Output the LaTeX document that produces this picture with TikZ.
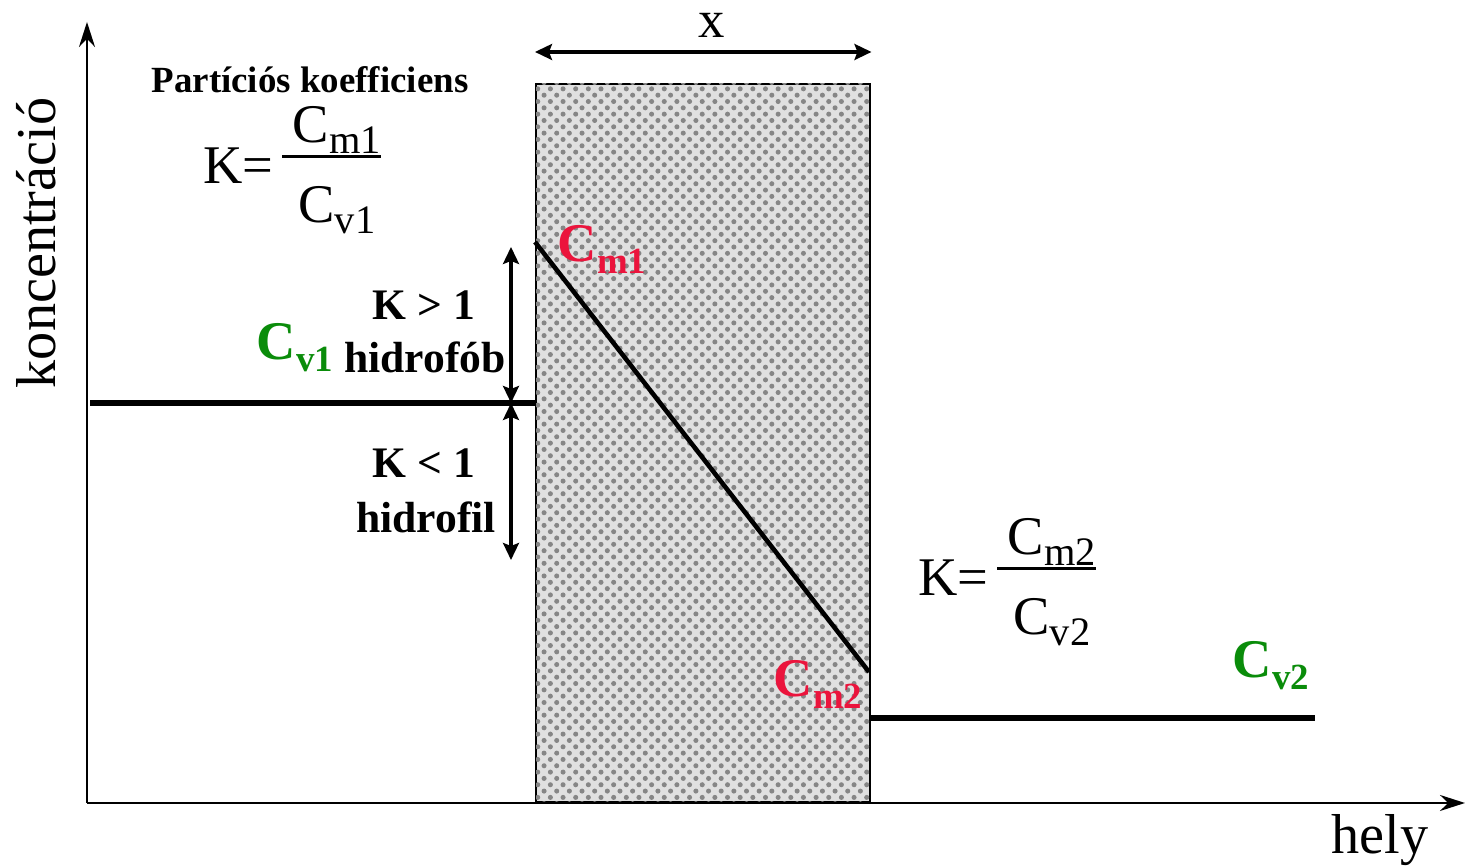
\documentclass[tikz,border=0pt]{standalone}
\usepackage{amsmath}
\usepackage{fontspec}
\setmainfont{Liberation Serif}
\usepackage{xcolor}
\usepackage{tikz}
\usetikzlibrary{arrows.meta, patterns, positioning}

\definecolor{cmred}{RGB}{235,20,60}
\definecolor{cvgreen}{RGB}{10,140,10}

% coarse dots for the membrane
\pgfdeclarepatternformonly{memdots}{\pgfqpoint{-0.8pt}{-0.8pt}}{\pgfqpoint{2.6pt}{2.6pt}}{\pgfqpoint{3.6pt}{3.6pt}}{%
  \pgfpathcircle{\pgfqpoint{0pt}{0pt}}{0.72pt}%
  \pgfpathcircle{\pgfqpoint{1.8pt}{1.8pt}}{0.72pt}%
  \pgfusepath{fill}}

\newcommand{\lowsub}[2]{{\fontsize{#1}{#1}\selectfont\raisebox{-3.2pt}{#2}}}
\newcommand{\conc}[1]{C\lowsub{10.5}{#1}}
\newcommand{\kratio}[2]{K=\,{\renewcommand{\arraystretch}{0.7}\setlength{\arrayrulewidth}{0.6pt}%
  \begin{tabular}[c]{@{\hspace{3pt}}c@{}}C\lowsub{11.5}{#1}\\\hline\rule{0pt}{2.6ex}C\lowsub{11.5}{#2}\end{tabular}}}

\begin{document}
\begin{tikzpicture}[
    axis/.style={line width=0.6pt, -{Stealth[length=2.5mm,width=1.6mm]}},
    level/.style={line width=1.5pt},
    darr/.style={line width=0.9pt, {Stealth[length=1.7mm,width=1.6mm,inset=0.3mm]}-{Stealth[length=1.7mm,width=1.6mm,inset=0.3mm]}},
    membrane/.style={draw=black, line width=0.7pt, fill=gray!24,
      postaction={pattern=memdots, pattern color=gray!95}},
    lbl/.style={inner sep=0pt, font=\fontsize{16}{18}\selectfont},
    blbl/.style={inner sep=0pt, font=\fontsize{12.4}{15}\selectfont\bfseries},
    clbl/.style={inner sep=0pt, anchor=base west, font=\fontsize{15.5}{18}\selectfont\bfseries},
    frac/.style={inner sep=0pt, font=\fontsize{15.5}{18}\selectfont}
  ]
  \useasboundingbox (0,0) rectangle (14.66,8.67);

  % axes
  \coordinate (orig) at (0.87,0.64);
  \coordinate (ytop) at (0.87,8.45);
  \coordinate (xend) at (14.65,0.64);
  \draw[axis] (orig) -- (ytop);
  \draw[axis] (orig) -- (xend);
  \node[lbl, rotate=90] (ylab) at (0.36,6.24) {koncentráció};
  \node[lbl] (xlab) at (13.80,0.27) {hely};

  % membrane
  \node[membrane, minimum width=3.34cm, minimum height=7.18cm, inner sep=0pt,
        anchor=south west] (memb) at (5.35,0.64) {};
  \coordinate (wl) at (memb.north west |- 0,8.15);
  \coordinate (wr) at (memb.north east |- 0,8.15);
  \draw[darr] (wl) -- (wr);
  \node[lbl, font=\fontsize{15}{17}\selectfont] (xw) at (7.12,8.42) {x};

  % concentration profile
  \coordinate (v1a) at (0.90,4.64);
  \coordinate (v1b) at (5.35,4.64);
  \coordinate (m1) at (5.35,6.25);
  \coordinate (m2) at (8.69,1.95);
  \coordinate (v2a) at (8.69,1.49);
  \coordinate (v2b) at (13.15,1.49);
  \draw[level] (v1a) -- (v1b);
  \draw[level, line width=1.3pt] (m1) -- (m2);
  \draw[level] (v2a) -- (v2b);

  % K > 1 / K < 1 arrows
  \coordinate (kup) at (5.11,6.20);
  \coordinate (kmid) at (5.11,4.64);
  \coordinate (kdn) at (5.11,3.07);
  \draw[darr] (kmid) -- (kup);
  \draw[darr] (kmid) -- (kdn);

  \node[blbl] (kgt) at (4.24,5.62) {K > 1};
  \node[blbl] (hfob) at (4.25,5.10) {hidrofób};
  \node[blbl] (klt) at (4.24,4.04) {K < 1};
  \node[blbl] (hfil) at (4.26,3.50) {hidrofil};

  % concentration labels
  \node[clbl, text=cvgreen] (cv1) at (2.56,5.07) {\conc{v1}};
  \node[clbl, text=cmred] (cm1) at (5.57,6.05) {\conc{m1}};
  \node[clbl, text=cmred] (cm2) at (7.73,1.70) {\conc{m2}};
  \node[clbl, text=cvgreen] (cv2) at (12.32,1.89) {\conc{v2}};

  % partition coefficient
  \node[inner sep=0pt, font=\fontsize{10.5}{13}\selectfont\bfseries] (ptitle) at (3.10,7.87) {Partíciós koefficiens};
  \node[frac] (kfrac1) at (2.92,6.96) {\kratio{m1}{v1}};
  \node[frac] (kfrac2) at (10.07,2.84) {\kratio{m2}{v2}};
\end{tikzpicture}
\end{document}
